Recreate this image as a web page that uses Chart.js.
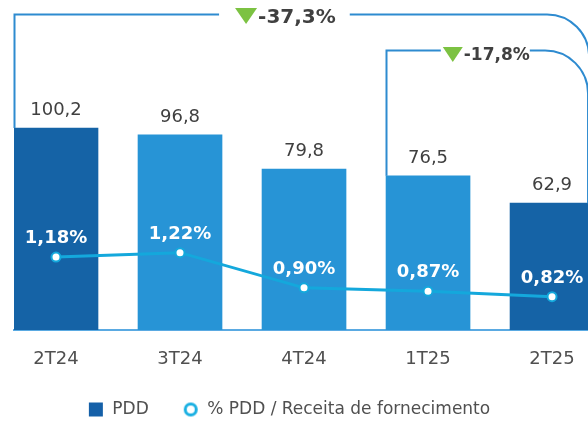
<!DOCTYPE html>
<html>
<head>
<meta charset="utf-8">
<script src="https://cdn.jsdelivr.net/npm/chart.js@4/dist/chart.umd.min.js"></script>
<style>
  html, body { margin: 0; padding: 0; background: #fff; overflow: hidden; }
</style>
</head>
<body>
<canvas id="canvas" width="588" height="423"></canvas>
<script>
const quarters = ["2T24", "3T24", "4T24", "1T25", "2T25"];
const pdd = [100.2, 96.8, 79.8, 76.5, 62.9];
const pdd_ratio = [1.18, 1.22, 0.90, 0.87, 0.82];
const change_from = [0, 3];
const change_text = ["-37,3%", "-17,8%"];
const legend_text = ["PDD", "% PDD / Receita de fornecimento"];

const dark_blue = "#1563a6";
const light_blue = "#2794d6";
const cyan = "#14a8dc";
const bracket_blue = "#2e8bd0";
const green = "#7cc242";
const font = "'DejaVu Sans', Verdana, sans-serif";

const fmt = (v, d) => v.toFixed(d).replace(".", ",");

const icon = (draw) => {
  const c = document.createElement("canvas");
  c.width = 16;
  c.height = 16;
  draw(c.getContext("2d"));
  return c;
};

const square_icon = icon((g) => {
  g.fillStyle = "#1560a8";
  g.fillRect(1, 1, 14, 14);
});

const ring_icon = icon((g) => {
  g.strokeStyle = "#1ab0e2";
  g.lineWidth = 3;
  g.beginPath();
  g.arc(8, 8, 5.5, 0, Math.PI * 2);
  g.stroke();
});

// brackets with the change in the top area
const bracket_plugin = {
  id: "brackets",
  afterDatasetsDraw(chart) {
    const ctx = chart.ctx;
    const x = chart.scales.x;
    const bars = chart.getDatasetMeta(0).data;
    const last = bars[bars.length - 1];
    const setups = [
      { top: 14.5, center: 1.85, size: 20, tri_w: 22, tri_h: 16, tri_dy: -6.5, base_dy: 8.5, gap_l: 16, gap_r: 14, right: 37, r: 42 },
      { top: 50.5, center: 3.47, size: 17, tri_w: 20, tri_h: 15, tri_dy: -3.5, base_dy: 9.5, gap_l: 2, gap_r: 0, right: 36, r: 43 },
    ];
    ctx.save();
    setups.forEach((s, k) => {
      const b = bars[change_from[k]];
      const x0 = Math.round(b.x - b.width / 2) + 0.5;
      const x1 = last.x + s.right;
      ctx.font = "bold " + s.size + "px " + font;
      const tw = ctx.measureText(change_text[k]).width;
      const group = s.tri_w + 1 + tw;
      const start = x.getPixelForValue(s.center) - group / 2;
      const line_end = start - s.gap_l;
      const line_back = Math.min(start + group + s.gap_r, x1 - s.r);

      ctx.strokeStyle = bracket_blue;
      ctx.lineWidth = 2;
      ctx.beginPath();
      ctx.moveTo(x0, b.y);
      ctx.lineTo(x0, s.top);
      ctx.lineTo(line_end, s.top);
      ctx.moveTo(line_back, s.top);
      ctx.lineTo(x1 - s.r, s.top);
      ctx.arcTo(x1, s.top, x1, s.top + s.r, s.r);
      ctx.lineTo(x1, last.y);
      ctx.stroke();

      ctx.fillStyle = green;
      ctx.beginPath();
      ctx.moveTo(start, s.top + s.tri_dy);
      ctx.lineTo(start + s.tri_w, s.top + s.tri_dy);
      ctx.lineTo(start + s.tri_w / 2, s.top + s.tri_dy + s.tri_h);
      ctx.closePath();
      ctx.fill();

      ctx.fillStyle = "#404040";
      ctx.textAlign = "left";
      ctx.textBaseline = "alphabetic";
      ctx.fillText(change_text[k], start + s.tri_w + 1, s.top + s.base_dy);
    });
    ctx.restore();
  }
};

// value labels over bars and points
const labels_plugin = {
  id: "value_labels",
  afterDatasetsDraw(chart) {
    const ctx = chart.ctx;
    const bars = chart.getDatasetMeta(0).data;
    const points = chart.getDatasetMeta(1).data;
    ctx.save();
    ctx.textAlign = "center";
    ctx.textBaseline = "alphabetic";
    ctx.font = "18px " + font;
    ctx.fillStyle = "#404040";
    bars.forEach((b, i) => ctx.fillText(fmt(pdd[i], 1), b.x, b.y - 13));
    ctx.font = "bold 18px " + font;
    ctx.fillStyle = "#ffffff";
    points.forEach((p, i) => ctx.fillText(fmt(pdd_ratio[i], 2) + "%", p.x, p.y - 14));
    ctx.restore();
  }
};

// legend sits a little left of the plot centre
const legend_shift = {
  id: "legend_shift",
  afterLayout(chart) {
    chart.legend.left -= 12;
    chart.legend.right -= 12;
  }
};

const plot = new Chart(document.getElementById("canvas").getContext("2d"), {
  data: {
    datasets: [
      {
        type: "bar",
        label: legend_text[0],
        data: pdd.map((y, i) => ({ x: i, y: y })),
        backgroundColor: quarters.map((q, i) => (i === 0 || i === quarters.length - 1) ? dark_blue : light_blue),
        barThickness: 84,
        yAxisID: "y",
        order: 2,
      },
      {
        type: "line",
        label: legend_text[1],
        data: pdd_ratio.map((y, i) => ({ x: i, y: y })),
        borderColor: cyan,
        borderWidth: 3,
        tension: 0,
        pointRadius: 4.5,
        pointBorderWidth: 2,
        pointBackgroundColor: "#ffffff",
        pointBorderColor: cyan,
        yAxisID: "y2",
        order: 1,
      },
    ]
  },
  options: {
    responsive: false,
    animation: false,
    layout: { autoPadding: false, padding: { left: 14, right: 0, top: 0, bottom: 6 } },
    scales: {
      x: {
        type: "linear",
        offset: false,
        min: -0.3387,
        max: 4.29,
        afterBuildTicks: (axis) => { axis.ticks = quarters.map((q, i) => ({ value: i })); },
        afterFit: (axis) => {
          axis.height = 37;
          axis.paddingLeft = 0;
          axis.paddingRight = 0;
        },
        ticks: {
          callback: (v) => quarters[v],
          color: "#505050",
          font: { family: font, size: 18 },
          padding: 19,
          autoSkip: false,
          maxRotation: 0,
        },
        grid: { display: false, drawTicks: false },
        border: { display: true, color: "#5aaae2", width: 2 },
      },
      y: { display: false, min: 0, max: 163.7 },
      y2: { display: false, min: 0.517, max: 3.517 },
    },
    plugins: {
      tooltip: { enabled: false },
      legend: {
        position: "bottom",
        maxHeight: 50,
        labels: {
          usePointStyle: true,
          boxWidth: 16,
          boxHeight: 16,
          padding: 34,
          color: "#505050",
          font: { family: font, size: 17 },
          generateLabels: () => [
            { text: legend_text[0], pointStyle: square_icon, datasetIndex: 0, fontColor: "#505050" },
            { text: legend_text[1], pointStyle: ring_icon, datasetIndex: 1, fontColor: "#505050" },
          ],
        },
      },
    },
  },
  plugins: [bracket_plugin, labels_plugin, legend_shift],
});
</script>
</body>
</html>
